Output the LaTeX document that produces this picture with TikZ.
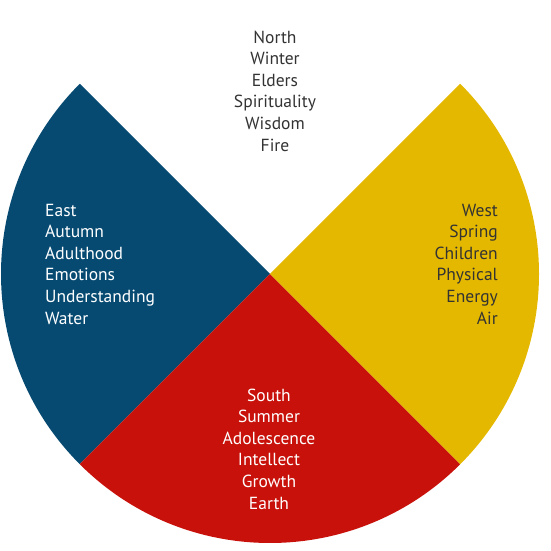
\documentclass[tikz,border=0pt]{standalone}
\usepackage{fontspec}
\setmainfont{PT Sans}
\definecolor{eastblue}{HTML}{064A72}
\definecolor{southred}{HTML}{C8110A}
\definecolor{westyellow}{HTML}{E5B800}
\definecolor{darktext}{HTML}{333333}
\begin{document}
\begin{tikzpicture}[x=1pt,y=1pt,
  label/.style={font=\fontsize{17.5}{21.6}\selectfont, inner sep=0pt},
  sector/.style={draw=none}]
\useasboundingbox (0,0) rectangle (550,551);
\coordinate (C) at (270,277);
\def\R{269}
\fill[eastblue] (C) -- ++(135:\R) arc (135:225:\R) -- cycle;
\fill[southred] (C) -- ++(225:\R) arc (225:315:\R) -- cycle;
\fill[westyellow] (C) -- ++(315:\R) arc (315:405:\R) -- cycle;
\node[label, text=darktext, align=center] (north) at (275,460) {North\\Winter\\Elders\\Spirituality\\Wisdom\\Fire};
\node[label, text=white, align=left, anchor=west] (east) at (45,287) {East\\Autumn\\Adulthood\\Emotions\\Understanding\\Water};
\node[label, text=darktext, align=right, anchor=east] (west) at (498,287) {West\\Spring\\Children\\Physical\\Energy\\Air};
\node[label, text=white, align=center] (south) at (269,102) {South\\Summer\\Adolescence\\Intellect\\Growth\\Earth};
\end{tikzpicture}
\end{document}
